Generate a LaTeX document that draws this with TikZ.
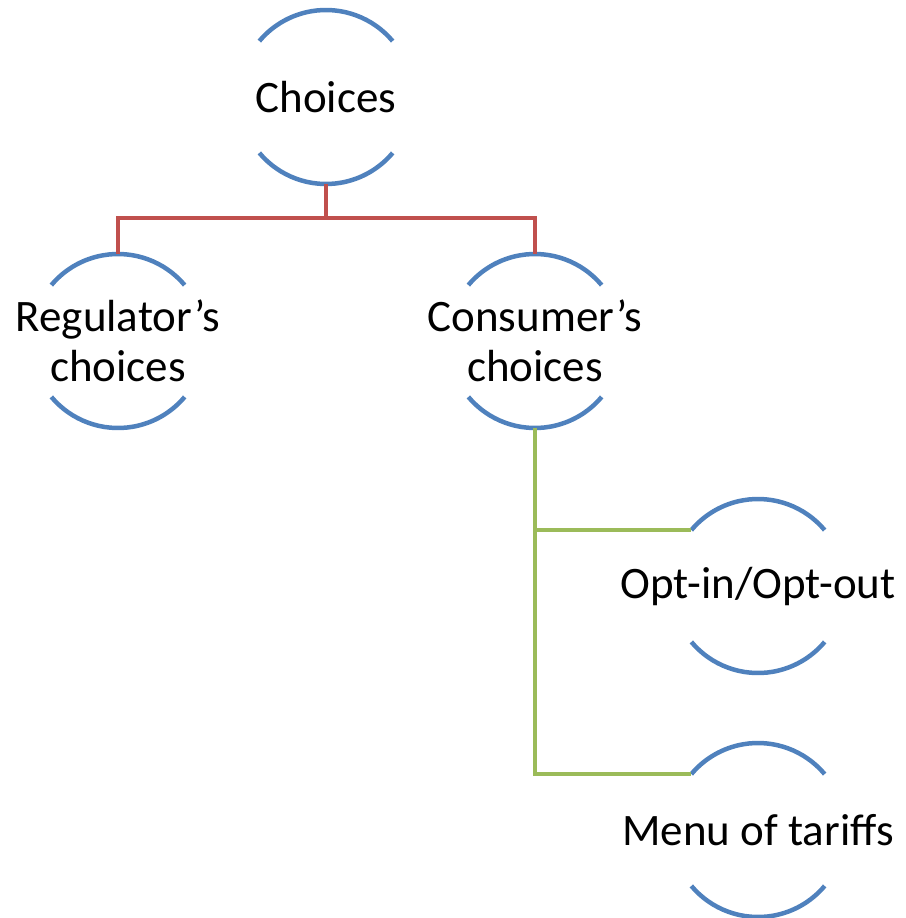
\documentclass[tikz,border=0pt]{standalone}
\usepackage{fontspec}
\setmainfont{Carlito}
\definecolor{arcblue}{HTML}{4F81BD}
\definecolor{linkred}{HTML}{C0504D}
\definecolor{linkgreen}{HTML}{9BBB59}
\tikzset{
  ring/.style={circle, draw=none, minimum size=174pt, inner sep=0pt, outer sep=0pt},
  txt/.style={font=\fontsize{45}{50}\selectfont, align=center, inner sep=0pt},
  arcst/.style={draw=arcblue, line width=4.5pt},
  redlink/.style={draw=linkred, line width=4.5pt},
  greenlink/.style={draw=linkgreen, line width=4.5pt},
}
\begin{document}
\begin{tikzpicture}[x=1pt,y=1pt]
\useasboundingbox (0,0) rectangle (905,-918);
\node[ring] (c) at (326,-97) {};
\node[ring] (r) at (118,-341) {};
\node[ring] (k) at (535,-341) {};
\node[ring] (o) at (758,-586) {};
\node[ring] (m) at (758,-830) {};
\node[txt] (ct) at (c.center) {Choices};
\node[txt] (rt) at (r.center) {Regulator’s\\choices};
\node[txt] (kt) at (k.center) {Consumer’s\\choices};
\node[txt] (ot) at (o.center) {Opt-in/Opt-out};
\node[txt] (mt) at (m.center) {Menu of tariffs};
\foreach \n in {c,r,k,o,m}{
  \draw[arcst] (\n.40) arc[start angle=40,end angle=140,radius=87pt];
  \draw[arcst] (\n.220) arc[start angle=220,end angle=320,radius=87pt];
}
\coordinate (j) at ([yshift=-34pt]c.south);
\draw[redlink] (c.south) -- (j);
\draw[redlink] (j) -| (r.north);
\draw[redlink] (j) -| (k.north);
\draw[greenlink] (k.south) |- (o.140);
\draw[greenlink] (k.south) |- (m.140);
\end{tikzpicture}
\end{document}
